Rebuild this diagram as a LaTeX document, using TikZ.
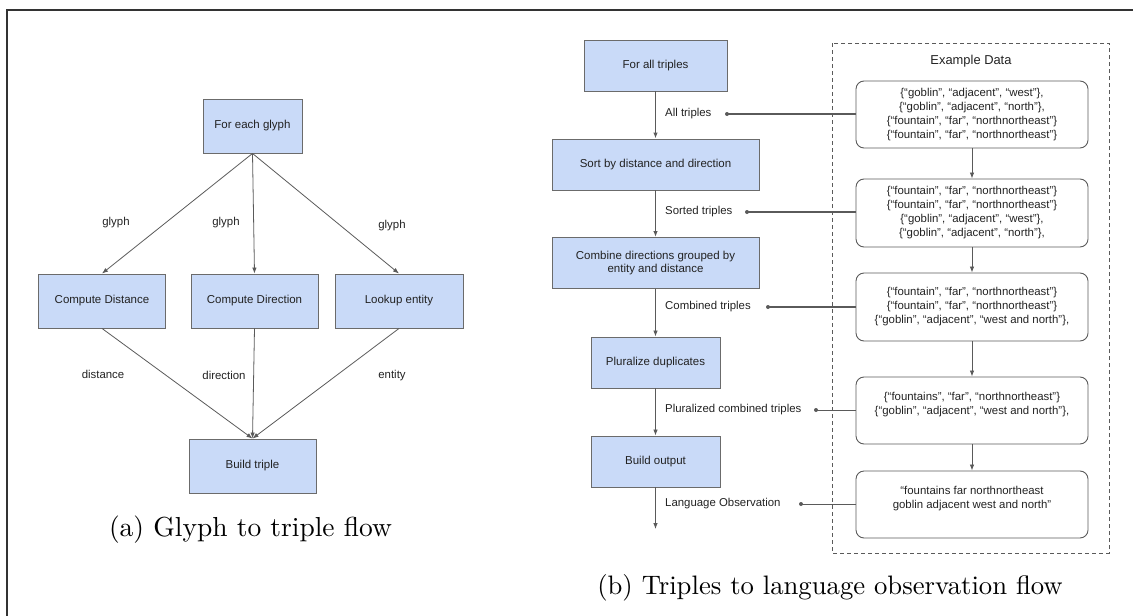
\documentclass[tikz,border=0pt]{standalone}
\usepackage{fontspec}
\newfontfamily\arial{Liberation Sans}
\newfontfamily\capfont{lmroman10-regular.otf}
\usetikzlibrary{arrows.meta}

\definecolor{boxfill}{HTML}{C9DAF8}
\definecolor{boxline}{HTML}{6B6B6B}
\definecolor{wire}{HTML}{5A5A5A}
\definecolor{ink}{HTML}{222222}
\definecolor{frameline}{HTML}{333333}

\tikzset{
  flowbox/.style={draw=boxline, fill=boxfill, line width=0.9pt, inner sep=0pt,
    align=center, text=ink, font=\arial\fontsize{11.5}{13.5}\selectfont},
  databox/.style={draw=wire, rounded corners=8pt, line width=0.9pt, inner sep=0pt,
    minimum width=232pt, align=center, text=ink,
    font=\arial\fontsize{11.4}{14}\selectfont},
  lbl/.style={text=ink, inner sep=0pt, font=\arial\fontsize{11.4}{13}\selectfont},
  sidelbl/.style={lbl, anchor=west},
  arr/.style={draw=wire, line width=0.8pt, -{Latex[length=6pt,width=4.5pt]}},
  thickarr/.style={arr, line width=1.4pt},
  tap/.style={draw=wire, line width=1.4pt},
  tapdot/.style={circle, fill=wire, inner sep=0pt, minimum size=4pt},
  capt/.style={anchor=base, inner sep=0pt, text=black, font=\capfont\fontsize{27.5}{30}\selectfont},
}

\begin{document}
\begin{tikzpicture}[x=1pt, y=-1pt]
\useasboundingbox (0,0) rectangle (1133,616);

% outer frame (top and left edges)
\draw[frameline, line width=1.5pt] (7,616) -- (7,10) -- (1133,10);

% ---------- (a) glyph to triple flow ----------
\node[flowbox, minimum width=99pt, minimum height=54pt] (each) at (252.5,126) {For each glyph};
\node[flowbox, minimum width=127pt, minimum height=54pt] (dist) at (102,301) {Compute Distance};
\node[flowbox, minimum width=127pt, minimum height=54pt] (dir)  at (254.5,301) {Compute Direction};
\node[flowbox, minimum width=128pt, minimum height=54pt] (ent)  at (399,301) {Lookup entity};
\node[flowbox, minimum width=127pt, minimum height=54pt] (build) at (252.5,466) {Build triple};

\draw[arr] (each.south) -- (dist.north);
\draw[arr] (each.south) -- (dir.north);
\draw[arr] (each.south) -- (ent.north);
\draw[arr] (dist.south) -- (build.north);
\draw[arr] (dir.south) -- (build.north);
\draw[arr] (ent.south) -- (build.north);

\node[lbl] (g1) at (116,223) {glyph};
\node[lbl] (g2) at (226,223) {glyph};
\node[lbl] (g3) at (392,226) {glyph};
\node[lbl] (l1) at (103,374) {distance};
\node[lbl] (l2) at (224,375) {direction};
\node[lbl] (l3) at (392,376) {entity};

\node[capt] (capa) at (250.5,536) {(a) Glyph to triple flow};

% ---------- (b) triples to language observation flow ----------
\node[flowbox, minimum width=143pt, minimum height=51pt] (all)  at (655.5,65.5) {For all triples};
\node[flowbox, minimum width=207pt, minimum height=51pt] (sort) at (655.5,164.5) {Sort by distance and direction};
\node[flowbox, minimum width=207pt, minimum height=51pt] (comb) at (655.5,263) {Combine directions grouped by\\entity and distance};
\node[flowbox, minimum width=129pt, minimum height=51pt] (plur) at (655.5,362.5) {Pluralize duplicates};
\node[flowbox, minimum width=129pt, minimum height=51pt] (bout) at (655.5,461.5) {Build output};
\coordinate (out) at (655.5,529);

\draw[thickarr] (all.south) -- (sort.north);
\draw[thickarr] (sort.south) -- (comb.north);
\draw[arr] (comb.south) -- (plur.north);
\draw[arr] (plur.south) -- (bout.north);
\draw[arr] (bout.south) -- (out);

\node[sidelbl] (t1) at (665,114) {All triples};
\node[sidelbl] (t2) at (665,212) {Sorted triples};
\node[sidelbl] (t3) at (665,307) {Combined triples};
\node[sidelbl] (t4) at (665,410) {Pluralized combined triples};
\node[sidelbl] (t5) at (665,504) {Language Observation};

% example data panel
\draw[wire, dashed, line width=0.7pt, dash pattern=on 4pt off 3pt] (832,43) rectangle (1109,553);
\node[lbl, font=\arial\fontsize{12.9}{15}\selectfont] (exhead) at (971,61) {Example Data};

\node[databox, minimum height=67pt] (d1) at (972,114.5)
  {\{“goblin”, “adjacent”, “west”\},\\\{“goblin”, “adjacent”, “north”\},\\\{“fountain”, “far”, “northnortheast”\}\\\{“fountain”, “far”, “northnortheast”\}};
\node[databox, minimum height=68pt] (d2) at (972,213)
  {\{“fountain”, “far”, “northnortheast”\}\\\{“fountain”, “far”, “northnortheast”\}\\\{“goblin”, “adjacent”, “west”\},\\\{“goblin”, “adjacent”, “north”\},};
\node[databox, minimum height=68pt] (d3) at (972,307)
  {\{“fountain”, “far”, “northnortheast”\}\\\{“fountain”, “far”, “northnortheast”\}\\\{“goblin”, “adjacent”, “west and north”\},};
\node[databox, minimum height=67pt] (d4) at (972,410.5)
  {\{“fountains”, “far”, “northnortheast”\}\\\{“goblin”, “adjacent”, “west and north”\},\\\mbox{}};
\node[databox, minimum height=67pt] (d5) at (972,504.5)
  {“fountains far northnortheast\\goblin adjacent west and north”\\\mbox{}};

\draw[arr] (d1.south) -- (d2.north);
\draw[arr] (d2.south) -- (d3.north);
\draw[arr] (d3.south) -- (d4.north);
\draw[arr] (d4.south) -- (d5.north);

% taps from the flow labels to the data boxes
\node[tapdot] (p1) at (727,114) {};
\node[tapdot] (p2) at (747,212) {};
\node[tapdot] (p3) at (768,307) {};
\node[tapdot] (p4) at (816,410) {};
\node[tapdot] (p5) at (801,504) {};
\draw[tap] (p1.center) -- (d1.west |- p1);
\draw[tap] (p2.center) -- (d2.west |- p2);
\draw[tap] (p3.center) -- (d3.west |- p3);
\draw[tap, line width=1pt] (p4.center) -- (d4.west |- p4);
\draw[tap, line width=1pt] (p5.center) -- (d5.west |- p5);

\node[capt, font=\capfont\fontsize{26.7}{30}\selectfont] (capb) at (830,594) {(b) Triples to language observation flow};
\end{tikzpicture}
\end{document}
